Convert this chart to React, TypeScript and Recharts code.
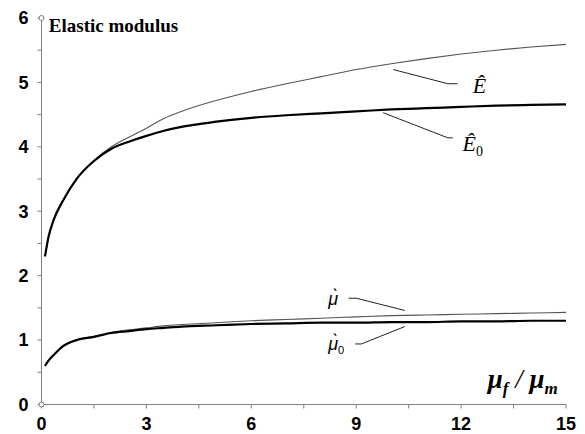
import React from 'react';
import { LineChart, Line, XAxis, YAxis, ReferenceLine, ReferenceDot } from 'recharts';

const ratio = [0.1, 0.2, 0.35, 0.6, 1, 1.5, 2, 2.5, 3, 3.5, 4, 5, 6, 7, 8, 9, 10, 11, 12, 13, 14, 15];
const eHat = [2.3, 2.6, 2.87, 3.15, 3.5, 3.79, 4.0, 4.15, 4.29, 4.44, 4.55, 4.72, 4.86, 4.98, 5.09, 5.2, 5.29, 5.37, 5.44, 5.5, 5.55, 5.59];
const eHat0 = [2.3, 2.6, 2.87, 3.15, 3.5, 3.78, 3.97, 4.08, 4.17, 4.25, 4.31, 4.39, 4.45, 4.49, 4.52, 4.55, 4.58, 4.6, 4.62, 4.64, 4.65, 4.66];
const muHat = [0.6, 0.68, 0.77, 0.9, 1.0, 1.06, 1.12, 1.16, 1.19, 1.22, 1.24, 1.27, 1.3, 1.32, 1.34, 1.36, 1.38, 1.39, 1.4, 1.41, 1.42, 1.43];
const muHat0 = [0.6, 0.68, 0.77, 0.9, 1.0, 1.05, 1.11, 1.14, 1.17, 1.19, 1.21, 1.23, 1.25, 1.26, 1.27, 1.27, 1.28, 1.28, 1.29, 1.29, 1.3, 1.3];

const xTicks = [0, 1.5, 3, 4.5, 6, 7.5, 9, 10.5, 12, 13.5, 15];
const yTicks = [0, 0.5, 1, 1.5, 2, 2.5, 3, 3.5, 4, 4.5, 5, 5.5, 6];

const title = 'Elastic modulus';

const data = ratio.map((r, i) => ({ r, E: eHat[i], E0: eHat0[i], mu: muHat[i], mu0: muHat0[i] }));

const leaders: [number, number, number, number][] = [
  [10.06, 5.2, 11.62, 4.98],
  [11.62, 4.98, 11.9, 4.98],
  [9.77, 4.53, 11.62, 4.14],
  [11.62, 4.14, 11.76, 4.14],
  [8.78, 1.65, 9.0, 1.65],
  [9.0, 1.65, 10.39, 1.46],
  [8.97, 0.94, 9.15, 0.94],
  [9.15, 0.94, 10.39, 1.21],
];

const serif = 'Liberation Serif';
const sans = 'Liberation Sans';

const EHatLabel = ({ cx, cy, sub }: any) => (
  <text x={cx} y={cy} fontFamily={serif} fontStyle="italic" fontSize={22} fill="#000">
    {'Ê'}
    {sub ? <tspan fontStyle="normal" fontSize={14} dy={5}>0</tspan> : null}
  </text>
);

const MuHatLabel = ({ cx, cy, sub }: any) => (
  <text x={cx} y={cy} fontFamily={sans} fontStyle="italic" fontSize={18} fill="#000">
    {'μ\u0300'}
    {sub ? <tspan fontStyle="normal" fontSize={11} dy={4}>0</tspan> : null}
  </text>
);

const AxisTitle = ({ cx, cy }: any) => (
  <text x={cx} y={cy} fontFamily={serif} fontStyle="italic" fontWeight="bold" fontSize={27} fill="#000">
    μ<tspan fontSize={17} dy={6}>f</tspan>
    <tspan fontSize={27} dy={-6} fontWeight="normal">{' / '}</tspan>
    <tspan fontSize={27}>μ</tspan>
    <tspan fontSize={17} dy={6}>m</tspan>
  </text>
);

const TitleText = ({ cx, cy }: any) => (
  <text x={cx} y={cy} fontFamily={serif} fontWeight="bold" fontSize={19} fill="#000">{title}</text>
);

const SmallCircle = ({ cx, cy }: any) => (
  <circle cx={cx} cy={cy} r={2.5} fill="#fff" stroke="#777" strokeWidth={1} />
);

export default function App() {
  return (
    <div style={{ position: 'absolute', left: 0, top: 0, background: '#fff' }}>
      <LineChart width={585} height={434} data={data} margin={{ top: 18, right: 19, bottom: 0, left: 0 }}>
        <XAxis
          dataKey="r"
          type="number"
          domain={[0, 15]}
          ticks={xTicks}
          interval={0}
          height={29.5}
          tickSize={4}
          tickMargin={9}
          stroke="#808080"
          tick={{ fill: '#000', fontFamily: sans, fontWeight: 'bold', fontSize: 18 }}
          tickFormatter={(v: number) => (v % 3 === 0 ? String(v) : '')}
        />
        <YAxis
          type="number"
          domain={[0, 6]}
          ticks={yTicks}
          interval={0}
          width={41.5}
          tickSize={4}
          tickMargin={9}
          stroke="#808080"
          tick={{ fill: '#000', fontFamily: sans, fontWeight: 'bold', fontSize: 18 }}
          tickFormatter={(v: number) => (Number.isInteger(v) ? String(v) : '')}
        />
        <Line dataKey="E" type="monotone" stroke="#555" strokeWidth={1.1} dot={false} isAnimationActive={false} />
        <Line dataKey="E0" type="monotone" stroke="#000" strokeWidth={2.2} dot={false} isAnimationActive={false} />
        <Line dataKey="mu" type="monotone" stroke="#555" strokeWidth={1.1} dot={false} isAnimationActive={false} />
        <Line dataKey="mu0" type="monotone" stroke="#000" strokeWidth={2.2} dot={false} isAnimationActive={false} />
        {leaders.map((s, i) => (
          <ReferenceLine
            key={i}
            segment={[{ x: s[0], y: s[1] }, { x: s[2], y: s[3] }]}
            stroke="#222"
            strokeWidth={1}
            ifOverflow="visible"
          />
        ))}
        <ReferenceDot x={12.33} y={4.84} ifOverflow="visible" shape={(p: any) => <EHatLabel {...p} />} />
        <ReferenceDot x={12.04} y={3.93} ifOverflow="visible" shape={(p: any) => <EHatLabel {...p} sub />} />
        <ReferenceDot x={8.2} y={1.55} ifOverflow="visible" shape={(p: any) => <MuHatLabel {...p} />} />
        <ReferenceDot x={8.2} y={0.85} ifOverflow="visible" shape={(p: any) => <MuHatLabel {...p} sub />} />
        <ReferenceDot x={12.76} y={0.25} ifOverflow="visible" shape={(p: any) => <AxisTitle {...p} />} />
        <ReferenceDot x={0.21} y={5.78} ifOverflow="visible" shape={(p: any) => <TitleText {...p} />} />
        <ReferenceDot x={0} y={0} ifOverflow="visible" shape={(p: any) => <SmallCircle {...p} />} />
        <ReferenceDot x={0} y={6} ifOverflow="visible" shape={(p: any) => <SmallCircle {...p} />} />
      </LineChart>
    </div>
  );
}
